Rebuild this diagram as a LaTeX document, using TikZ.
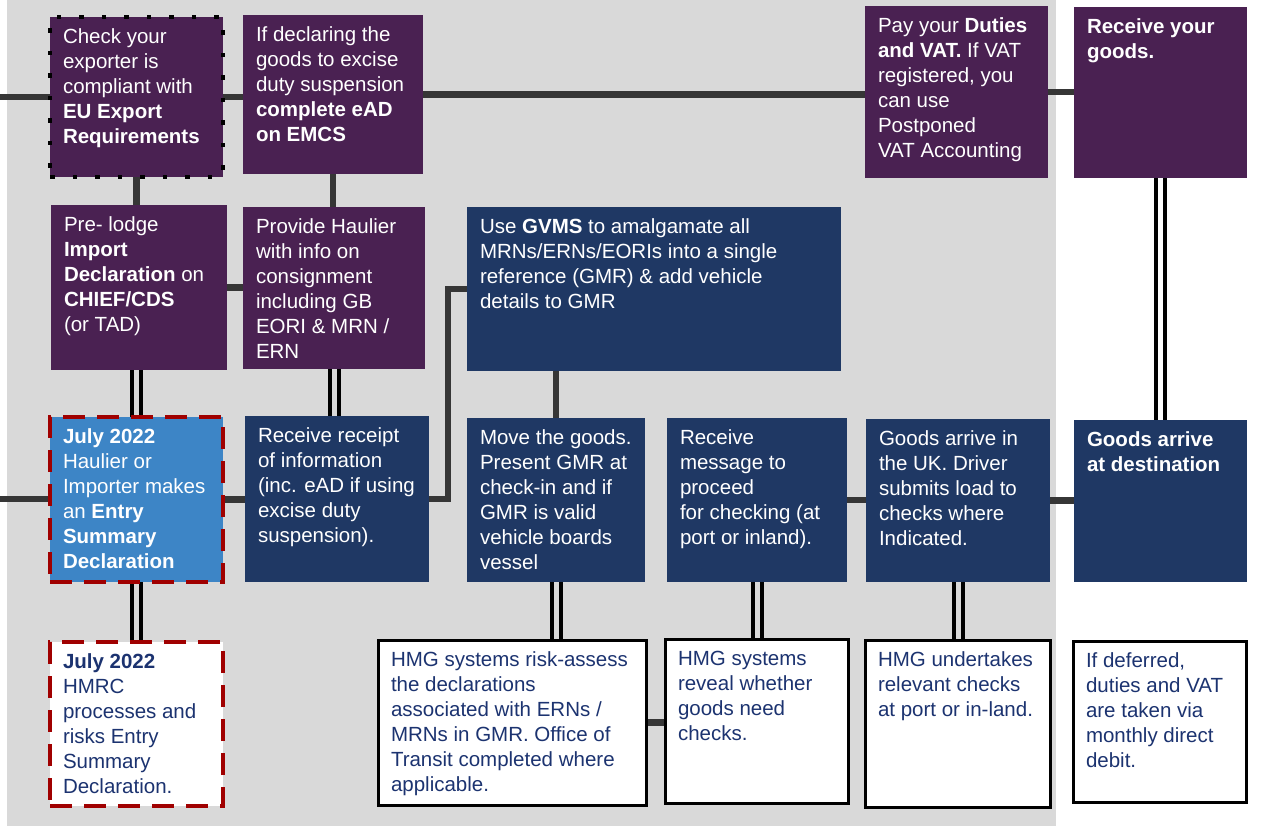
\documentclass[tikz,border=0pt]{standalone}
\usepackage{fontspec}
\setmainfont{Liberation Sans}
\usetikzlibrary{backgrounds,calc}
\definecolor{bggrey}{HTML}{D9D9D9}
\definecolor{purp}{HTML}{4A2152}
\definecolor{navy}{HTML}{1F3864}
\definecolor{lblue}{HTML}{3D85C6}
\definecolor{dred}{HTML}{A00000}
\definecolor{lgrey}{HTML}{363636}
\definecolor{txtnavy}{HTML}{1C3370}
\tikzset{
  pbox/.style={fill=purp, text=white},
  nbox/.style={fill=navy, text=white},
  wbox/.style={fill=white, text=txtnavy, draw=black, line width=3pt},
  dotborder/.style={draw=black, line width=4.5pt, dash pattern=on 4.5pt off 18pt},
  redborder/.style={draw=dred, line width=3.5pt, dash pattern=on 22pt off 12pt},
  conn/.style={draw=lgrey, line width=6.5pt},
  dbl/.style={draw=black, line width=4pt, double=bggrey, double distance=5pt},
}
\newcommand\flowbox[7]{%
  \node[#6, anchor=north west, inner sep=0pt, outer sep=0pt] (#1) at (#2,#3)
  {\hspace*{13pt}\parbox[c][#5pt][t]{\dimexpr#4pt-13pt\relax}{\fontsize{20.5}{25}\selectfont\raggedright\vspace*{9pt}\strut #7}};}
\begin{document}
\begin{tikzpicture}[x=1pt,y=-1pt]
\useasboundingbox (0,0) rectangle (1271,826);
% row 1
\flowbox{A1}{50}{17}{173}{160}{pbox,dotborder}{Check your\\ exporter is\\ compliant with\\ \textbf{EU Export}\\ \textbf{Requirements}}
\flowbox{A2}{243}{15}{180}{159}{pbox}{If declaring the\\ goods to excise\\ duty suspension\\ \textbf{complete eAD}\\ \textbf{on EMCS}}
\flowbox{A3}{865}{6}{183}{172}{pbox}{Pay your \textbf{Duties}\\ \textbf{and VAT.} If VAT\\ registered, you\\ can use\\ Postponed\\ VAT Accounting}
\flowbox{A4}{1074}{7}{173}{171}{pbox}{\textbf{Receive your}\\ \textbf{goods.}}
% row 2
\flowbox{B1}{51}{205}{176}{165}{pbox}{Pre- lodge\\ \textbf{Import}\\ \textbf{Declaration} on\\ \textbf{CHIEF/CDS}\\ (or TAD)}
\flowbox{B2}{243}{207}{182}{162}{pbox}{Provide Haulier\\ with info on\\ consignment\\ including GB\\ EORI \& MRN /\\ ERN}
\flowbox{G}{467}{207}{374}{164}{nbox}{Use \textbf{GVMS} to amalgamate all\\ MRNs/ERNs/EORIs into a single\\ reference (GMR) \& add vehicle\\ details to GMR}
% row 3
\flowbox{C1}{50}{417}{173}{165}{fill=lblue,text=white,redborder}{\textbf{July 2022}\\ Haulier or\\ Importer makes\\ an \textbf{Entry}\\ \textbf{Summary}\\ \textbf{Declaration}}
\flowbox{C2}{245}{416}{184}{166}{nbox}{Receive receipt\\ of information\\ (inc. eAD if using\\ excise duty\\ suspension).}
\flowbox{C3}{467}{418}{178}{164}{nbox}{Move the goods.\\ Present GMR at\\ check-in and if\\ GMR is valid\\ vehicle boards\\ vessel}
\flowbox{C4}{667}{418}{180}{164}{nbox}{Receive\\ message to\\ proceed\\ for checking (at\\ port or inland).}
\flowbox{C5}{866}{419}{184}{163}{nbox}{Goods arrive in\\ the UK. Driver\\ submits load to\\ checks where\\ Indicated.}
\flowbox{C6}{1074}{420}{173}{162}{nbox}{\textbf{Goods arrive}\\ \textbf{at destination}}
% row 4
\flowbox{D1}{50}{642}{173}{164}{fill=white,text=txtnavy,redborder}{\textbf{July 2022}\\ HMRC\\ processes and\\ risks Entry\\ Summary\\ Declaration.}
\flowbox{D2}{378}{640}{268}{165}{wbox}{HMG systems risk-assess\\ the declarations\\ associated with ERNs /\\ MRNs in GMR. Office of\\ Transit completed where\\ applicable.}
\flowbox{D3}{665}{639}{183}{164}{wbox}{HMG systems\\ reveal whether\\ goods need\\ checks.}
\flowbox{D4}{865}{640}{185}{167}{wbox}{HMG undertakes\\ relevant checks\\ at port or in-land.}
\flowbox{D5}{1073}{641}{173}{161}{wbox}{If deferred,\\ duties and VAT\\ are taken via\\ monthly direct\\ debit.}
\coordinate (L1) at (0,97);
\coordinate (L2) at (0,499);
\begin{scope}[on background layer]
\fill[bggrey] (7,0) rectangle (1056,826);
\draw[conn] (L1) -- (L1 -| A1.west);
\draw[conn] (A1.east) -- (A1.east -| A2.west);
\draw[conn] (A2.east) -- (A2.east -| A3.west);
\draw[conn] (A3.east) -- (A3.east -| A4.west);
\draw[conn] (A1.south) -- (A1.south |- B1.north);
\draw[conn] (A2.south) -- (A2.south |- B2.north);
\draw[conn] (B1.east) -- (B1.east -| B2.west);
\draw[dbl] (C1.north |- B1.south) -- (C1.north);
\draw[dbl] (B2.south) -- (B2.south |- C2.north);
\draw[conn] (L2) -- (L2 -| C1.west);
\draw[conn] (C1.east) -- (C1.east -| C2.west);
\draw[conn] (C2.east) -- ($(C2.east)!.5!(C2.east -| G.west)$) |- (G.west);
\draw[conn] (C3.north |- G.south) -- (C3.north);
\draw[conn] (C4.east) -- (C4.east -| C5.west);
\draw[conn] (C5.east) -- (C5.east -| C6.west);
\draw[dbl] (C1.south) -- (C1.south |- D1.north);
\draw[dbl] (C3.south) -- (C3.south |- D2.north);
\draw[dbl] (C4.south) -- (C4.south |- D3.north);
\draw[dbl] (C5.south) -- (C5.south |- D4.north);
\draw[dbl, double=white] (A4.south) -- (A4.south |- C6.north);
\draw[conn] (D2.east) -- (D2.east -| D3.west);
\end{scope}
\end{tikzpicture}
\end{document}
